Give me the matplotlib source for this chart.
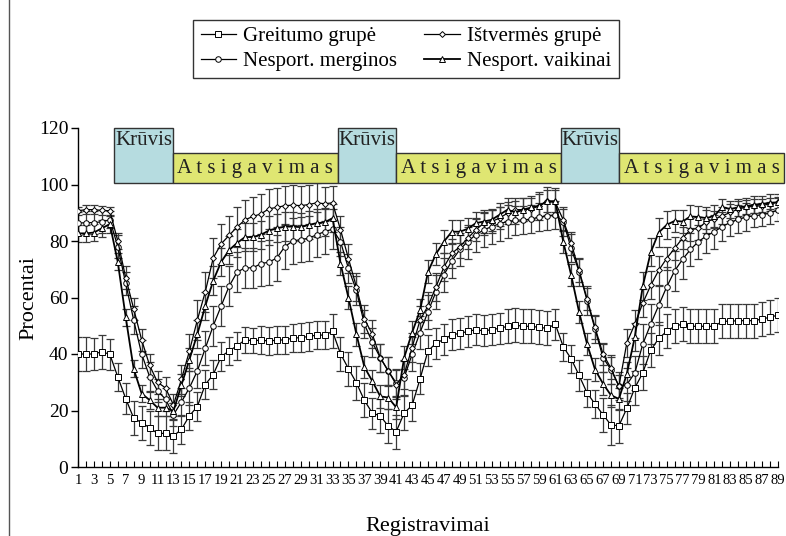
import numpy as np
import matplotlib
matplotlib.use('Agg')
import matplotlib.pyplot as plt
from matplotlib.patches import Rectangle
from matplotlib.lines import Line2D

plt.rcParams['font.family'] = ['Liberation Serif', 'DejaVu Serif']

x = np.arange(1, 90)

# Greitumo grupe (squares)
greit = [40, 40, 40, 40.8, 39.9,
         31.9, 24.2, 17.3, 15.7, 13.9, 11.9, 11.9, 11.0,
         13.3, 18.1, 21.4, 29.2, 32.7, 39.1, 41.1, 42.9, 45.0, 44.7,
         44.9, 44.6, 44.9, 45.0, 45.6, 45.8, 46.2, 46.7, 46.7, 48.0,
         40.1, 34.8, 29.8, 23.6, 19.1, 18.1, 14.5, 12.5,
         19.1, 21.8, 31.2, 41.1, 43.8, 45.2, 46.8, 47.3, 48.0, 48.6,
         48.2, 48.6, 49.1, 49.8, 50.2, 49.8, 49.8, 49.4, 49.1, 50.6,
         42.6, 38.3, 32.4, 26.2, 22.3, 18.5, 14.9, 14.6,
         20.8, 28.0, 33.3, 41.3, 45.5, 48.0, 49.8, 50.6, 49.8, 49.8,
         49.8, 49.8, 51.6, 51.6, 51.8, 51.8, 51.8, 52.4, 53.0, 53.8]
greit_err = [6, 6, 5.5, 6, 5.5,
             5, 5.5, 6, 6, 6, 6, 6, 6,
             5, 5, 5, 5, 5, 5, 5, 5, 4.5, 4.5,
             5, 5, 5, 5, 5, 5, 5, 5, 5, 6,
             6, 6, 6, 6, 5.5, 6, 6, 6,
             6, 5.5, 5.5, 5.5, 5.5, 5.5, 5.5, 5.5, 5.5, 5.5,
             5.5, 5.5, 5.5, 6, 6, 6, 6, 6, 6, 5.5,
             5, 5, 5.5, 5, 5, 6, 7, 6,
             5.5, 6, 6, 6, 6, 6, 6, 6, 6, 6,
             6, 6, 6, 6, 6, 6, 6, 6, 6, 6]

# Istvermes grupe (diamonds)
istv = [90.7, 91.1, 91.1, 90.8, 90.7,
        80, 67, 56, 45, 36, 30, 28, 22,
        31, 41, 52, 62, 74, 79, 82, 85, 87.5, 88.7,
        89.6, 91.4, 91.9, 92.5, 92.7, 92.5, 92.9, 93.5, 93.2, 93.5,
        84, 73.8, 63.7, 52.4, 47, 38.7, 34, 29.2,
        32.7, 42.3, 52, 57, 63.7, 70.8, 75.6, 78, 81, 83.9,
        86.3, 86.9, 88.1, 89.9, 91.1, 91.1, 91.3, 92.5, 94.1, 93.7,
        87.5, 79.2, 69.6, 59.5, 49.4, 40, 35, 28.6,
        44, 50.6, 58, 64.3, 69.6, 73.8, 77.4, 81, 84, 84.5,
        86.9, 87.7, 88.9, 90.1, 91.3, 92, 92.3, 92.5, 93.2, 93.7]
istv_err = [1.5, 1.5, 1.5, 1.5, 1.5,
            3, 4, 4, 4, 4, 4, 4, 4,
            5, 6, 7, 7, 7, 7, 7, 7, 7, 7,
            7, 7, 7, 7, 7, 7, 7, 7, 6, 6,
            5, 5, 5, 5, 5, 5, 5, 5,
            5, 5, 5, 5, 5, 5, 5, 4, 4, 4,
            4, 4, 4, 4, 4, 4, 4, 5, 5, 5,
            4, 4, 4, 4, 4, 4, 4, 4,
            5, 5, 5, 5, 5, 4, 4, 4, 4, 4,
            4, 3, 3, 3, 3, 2.5, 2.5, 2.5, 2, 2]

# Nesport. merginos (circles)
merg = [86.3, 86.5, 86.5, 86.8, 87.5,
        78, 65, 52, 40, 32, 27, 24, 18.5,
        23, 28, 34, 42, 50, 57, 64, 69, 70.5, 70.5,
        72, 72.5, 74, 78, 80, 80.5, 81, 82.2, 83.3, 84.2,
        79.8, 70.3, 62.5, 50.6, 44.1, 38.7, 34, 29.8,
        31.6, 39.9, 47.6, 55, 62, 68, 73, 77, 79.8, 82.2,
        83.9, 85.1, 86.1, 86.9, 87.3, 87.5, 87.7, 88.5, 88.9, 89.3,
        86.9, 77.4, 69.1, 58.9, 48.8, 38.7, 34.5, 28.6,
        29.2, 33.3, 43.5, 50.6, 57.2, 63.7, 69.4, 73.5, 77, 79.8,
        81.8, 83.3, 85.1, 86.6, 87.7, 88.5, 88.9, 89.3, 89.9, 91.1]
merg_err = [4, 4, 4, 4, 3,
            4, 4, 5, 5, 5, 4, 4, 4,
            5, 6, 6, 6, 7, 7, 7, 7, 7, 7,
            8, 8, 8, 8, 8, 8, 8, 8, 8, 7,
            5, 5, 5, 5, 5, 5, 5, 5,
            6, 6, 6, 6, 6, 6, 6, 6, 6, 6,
            6, 6, 6, 6, 5, 5, 5, 5, 5, 5,
            5, 5, 5, 5, 5, 5, 5, 5,
            6, 6, 7, 7, 7, 7, 7, 7, 6, 6,
            6, 6, 5, 5, 5, 5, 4, 4, 4, 4]

# Nesport. vaikinai (triangles)
vaik = [82.7, 82.7, 83, 84.5, 86,
        72.6, 53, 34.7, 26, 23.7, 21, 21, 19.8,
        29, 38, 47, 57, 66, 72.6, 76.8, 79.3, 81.4, 81.4,
        82.2, 83.7, 84.5, 85.1, 85.1, 84.9, 85.7, 86.3, 86.6, 88.1,
        72, 59.9, 47, 35.4, 30.4, 25, 24.6, 21.1,
        38.7, 47.6, 55.4, 69.1, 75.4, 79.8, 83.3, 83.3, 84.3, 86.3,
        86.9, 87.5, 89.3, 91.1, 90.1, 91.1, 91.9, 92.5, 94.1, 94.1,
        79.8, 67.9, 54.8, 43.5, 34.5, 29.5, 25.4, 24.1,
        33, 46, 64, 76, 83, 85.7, 87.1, 86.9, 88.7, 88.5,
        88.1, 88.9, 92, 91.3, 91.9, 92.3, 92.9, 93.1, 93.5, 93.7]
vaik_err = [3, 3, 3, 3, 3,
            3, 3, 3, 3, 3, 3, 3, 3,
            4, 4, 5, 5, 5, 5, 5, 5, 5, 5,
            5, 5, 5, 5, 5, 5, 5, 5, 5, 5,
            4, 4, 4, 4, 4, 4, 4, 4,
            4, 4, 4, 4, 4, 4, 4, 4, 4, 4,
            4, 4, 4, 4, 4, 4, 4, 4, 4, 4,
            4, 4, 4, 4, 4, 4, 4, 4,
            4, 5, 5, 5, 5, 5, 4, 4, 4, 4,
            4, 4, 3, 3, 3, 3, 3, 3, 3, 3]

# phases above the curves
phase_names = ['Krūvis', 'Atsigavimas', 'Krūvis', 'Atsigavimas', 'Krūvis', 'Atsigavimas']
phase_edges = [5.55, 12.9, 33.7, 41.0, 61.7, 69.05, 89.8]

fig = plt.figure(figsize=(7.86, 5.36), dpi=100)
ax = fig.add_axes([78 / 786, 69 / 536, 700 / 786, 339 / 536])

series = [
    (greit, greit_err, 's', 'Greitumo grupė', 0.9),
    (merg, merg_err, 'o', 'Nesport. merginos', 0.9),
    (istv, istv_err, 'D', 'Ištvermės grupė', 0.9),
    (vaik, vaik_err, '^', 'Nesport. vaikinai', 1.3),
]
handles = []
for vals, err, mk, lab, lw in series:
    ax.errorbar(x, vals, yerr=err, fmt='none', ecolor='#3a3a3a', elinewidth=0.9,
                capsize=3, capthick=0.9, zorder=2)
    ms = 4.0 if mk != 'D' else 3.0
    ax.plot(x, vals, color='black', lw=lw, marker=mk, ms=ms, mfc='white',
            mec='black', mew=0.7, zorder=3)
    handles.append(Line2D([], [], color='black', lw=lw, marker=mk, ms=ms,
                          mfc='white', mec='black', mew=0.7, label=lab))

ax.set_xlim(1, 89)
ax.set_ylim(0, 120)
ax.set_yticks(range(0, 121, 20))
ax.set_xticks(x)
ax.set_xticklabels([str(v) if v % 2 == 1 else '' for v in x])
ax.tick_params(axis='y', labelsize=14, length=5, direction='out', width=1, pad=2)
ax.tick_params(axis='x', labelsize=10.5, length=4, direction='in', width=0.8, pad=5)
ax.spines['top'].set_visible(False)
ax.spines['right'].set_visible(False)
ax.spines['left'].set_linewidth(1)
ax.spines['bottom'].set_linewidth(1)

ax.set_ylabel('Procentai', fontsize=16, labelpad=0)
ax.set_xlabel('Registravimai', fontsize=16, labelpad=22)

# phase boxes
for k, name in enumerate(phase_names):
    x0, x1 = phase_edges[k], phase_edges[k + 1]
    if name == 'Krūvis':
        r = Rectangle((x0, 100.5), x1 - x0, 19.5, facecolor='#b6dce0',
                      edgecolor='#333333', lw=1, clip_on=False, zorder=4)
        ax.add_patch(r)
        ax.text((x0 + x1) / 2, 115.5, name, ha='center', va='center',
                fontsize=15, color='#222222', zorder=5, clip_on=False)
    else:
        r = Rectangle((x0, 100.5), x1 - x0, 10.5, facecolor='#dfe672',
                      edgecolor='#333333', lw=1, clip_on=False, zorder=4)
        ax.add_patch(r)
        ax.text((x0 + x1) / 2, 105.5, ' '.join(name), ha='center', va='center',
                fontsize=15, color='#222222', zorder=5, clip_on=False)

leg = fig.legend(handles=handles, ncol=2, loc='center',
                 bbox_to_anchor=(406 / 786, 1 - 49 / 536), fontsize=15,
                 frameon=True, fancybox=False, edgecolor='black',
                 handlelength=1.7, handletextpad=0.35, columnspacing=1.3,
                 labelspacing=0.25, borderpad=0.35)
leg.get_frame().set_linewidth(1)

# outer frame line on the left
fig.add_artist(Line2D([8.5 / 786, 8.5 / 786], [0, 1], color='#555555', lw=1,
                      transform=fig.transFigure))

fig.savefig('out.png', dpi=100)
